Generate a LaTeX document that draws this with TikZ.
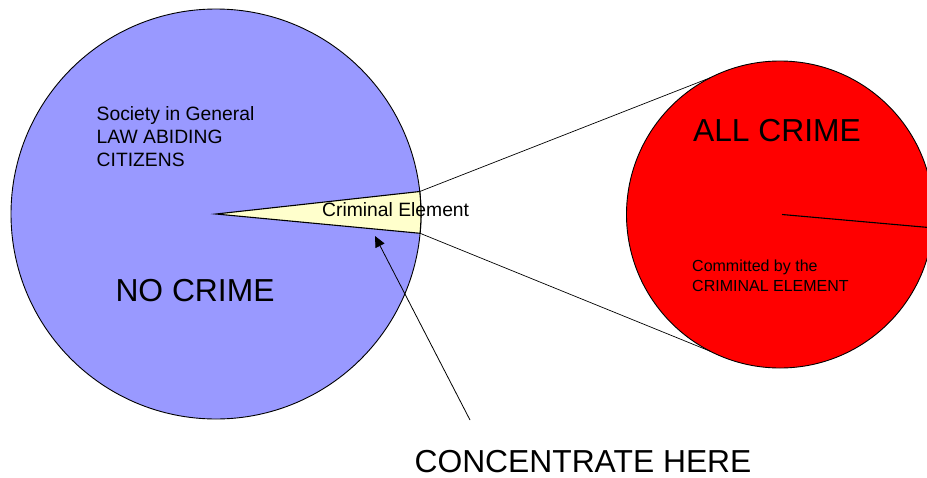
\documentclass[tikz,border=0pt]{standalone}
\usepackage{fontspec}
\setmainfont{Liberation Sans}
\usepackage{xcolor}
\usetikzlibrary{positioning,arrows.meta,calc}

\definecolor{lawblue}{RGB}{153,153,255}
\definecolor{wedgeyellow}{RGB}{255,255,204}
\definecolor{crimered}{RGB}{255,0,0}

\begin{document}
\begin{tikzpicture}[
    x=1pt,y=1pt,
    pie/.style={draw,circle,line width=0.9pt,inner sep=0pt,outer sep=0pt},
    big/.style={font=\fontsize{31.8}{36}\selectfont,inner sep=0pt},
    mid/.style={font=\fontsize{19.3}{23}\selectfont,inner sep=0pt,align=left},
    small/.style={font=\fontsize{16}{20}\selectfont,inner sep=0pt,align=left},
    thin line/.style={line width=0.7pt},
    arr/.style={-{Triangle[length=11pt,width=10pt]},line width=0.8pt}
  ]
    \useasboundingbox (0,0) rectangle (927,-477);

    \node[pie,fill=lawblue,minimum size=410pt] (society) at (216,-214) {};
    \node[pie,fill=crimered,minimum size=307pt] (crime) at (780,-214.5) {};

    % the criminal slice of society
    \coordinate (wtop) at ($(society.center)+(6.3:205)$);
    \coordinate (wbot) at ($(society.center)+(-5.4:205)$);
    \draw[fill=wedgeyellow,line width=1.1pt,line join=miter]
      (society.center) -- (wbot) arc[start angle=-5.4,end angle=6.3,radius=205] -- cycle;

    \draw[thin line] (wtop) -- (crime.117);
    \draw[thin line] (wbot) -- (crime.-117);
    \draw[line width=1.1pt] (crime.center) ++(2,0) -- (crime.-5);

    \node[mid,anchor=north west] (general) at (96.5,-106)
      {Society in General\\LAW ABIDING\\CITIZENS};
    \node[big,anchor=base] (nocrime) at (195,-301) {NO CRIME};
    \node[mid,anchor=base west] (element) at (322,-216) {Criminal Element};
    \node[big,anchor=base] (allcrime) at (777,-141) {ALL CRIME};
    \node[small,anchor=north west] (committed) at (692,-260)
      {Committed by the\\CRIMINAL ELEMENT};
    \node[big,anchor=base] (here) at (583,-472.5) {CONCENTRATE HERE};

    \coordinate (hint) at (470,-420);
    \coordinate (tip) at (375,-236);
    \draw[arr] (hint) -- (tip);
  \end{tikzpicture}
\end{document}
